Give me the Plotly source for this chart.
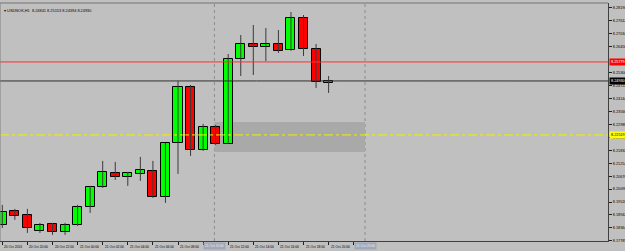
import plotly.graph_objects as go

# ---- data ----
hour_index = list(range(27))   # 20 Oct 18:00 ... 21 Oct 20:00 (H1)
opens  = [8.18499, 8.19125, 8.18946, 8.18231, 8.18544, 8.18187, 8.18499, 8.19303, 8.20196,
          8.20822, 8.20643, 8.20777, 8.20911, 8.19750, 8.22161, 8.24662, 8.21849, 8.22876,
          8.22117, 8.25913, 8.26582, 8.26448, 8.26582, 8.26314, 8.27743, 8.26359, 8.24841]
highs  = [8.19393, 8.19214, 8.19214, 8.18589, 8.18589, 8.18589, 8.19393, 8.20241, 8.21358,
          8.21313, 8.20866, 8.21536, 8.21358, 8.22161, 8.24930, 8.24751, 8.23010, 8.22965,
          8.26136, 8.26984, 8.27431, 8.27297, 8.27208, 8.28011, 8.27877, 8.26582, 8.25153]
lows   = [8.18365, 8.18723, 8.18142, 8.18142, 8.18053, 8.18053, 8.18455, 8.19035, 8.20152,
          8.20509, 8.20241, 8.20464, 8.19705, 8.19482, 8.20777, 8.21581, 8.21804, 8.22072,
          8.22117, 8.25153, 8.25198, 8.25823, 8.26180, 8.26270, 8.26046, 8.24617, 8.24394]
closes = [8.19080, 8.18901, 8.18365, 8.18499, 8.18187, 8.18499, 8.19303, 8.20196, 8.20866,
          8.20643, 8.20822, 8.20956, 8.19750, 8.22161, 8.24662, 8.21849, 8.22876, 8.22117,
          8.25913, 8.26582, 8.26448, 8.26582, 8.26270, 8.27743, 8.26359, 8.24885, 8.24930]

# price labels visible on the right scale (the ones under the level tags are hidden)
price_ticks = [8.28190, 8.27612, 8.27034, 8.26456, 8.25300, 8.24722, 8.24144,
               8.23566, 8.22988, 8.22410, 8.21832, 8.21254, 8.20676, 8.20098, 8.19520,
               8.18942, 8.18364, 8.17785]

time_tick_idx = [0, 2, 4, 6, 8, 10, 12, 14, 18, 20, 22, 24, 26]
time_tick_txt = ["20 Oct 2016", "20 Oct 20:00", "20 Oct 22:00", "21 Oct 00:00", "21 Oct 02:00",
                 "21 Oct 04:00", "21 Oct 06:00", "21 Oct 08:00", "21 Oct 12:00", "21 Oct 14:00",
                 "21 Oct 16:00", "21 Oct 18:00", "21 Oct 20:00"]

red_level = 8.25779
yellow_level = 8.22519
bid_level = 8.24930
zone_time = [16.9, 28.9]
zone_price = [8.21759, 8.23099]
vline_idx = [16.9, 28.9]
vline_txt = ["21 Oct 11:00", "21 Oct 23:00"]
header = "USDNOK,H1  8.24841 8.25153 8.24394 8.24930"

BG = "#c0c0c0"
FONT = "Liberation Sans"

fig = go.Figure()

# wicks
wx, wy = [], []
for i, h, l in zip(hour_index, highs, lows):
    wx += [i, i, None]
    wy += [l, h, None]
fig.add_trace(go.Scatter(x=wx, y=wy, mode="lines", line=dict(color="#3a3a3a", width=1),
                         hoverinfo="skip", showlegend=False))

# bodies
base = [min(o, c) for o, c in zip(opens, closes)]
height = [abs(c - o) for o, c in zip(opens, closes)]
colors = ["#00ff00" if c >= o else "#ff0000" for o, c in zip(opens, closes)]
fig.add_trace(go.Bar(x=hour_index, y=height, base=base, width=0.72,
                     marker=dict(color=colors, line=dict(color="#000000", width=1)),
                     showlegend=False))

# zone rectangle
fig.add_shape(type="rect", xref="x", yref="y", x0=zone_time[0], x1=zone_time[1],
              y0=zone_price[0], y1=zone_price[1], fillcolor="#a9a9a9", line_width=0, layer="below")
# vertical dotted lines
for v in vline_idx:
    fig.add_shape(type="line", xref="x", yref="paper", x0=v, x1=v, y0=0, y1=1,
                  line=dict(color="#8c8c8c", width=1, dash="dot"), layer="below")
# horizontal lines
fig.add_shape(type="line", xref="paper", yref="y", x0=0, x1=1, y0=red_level, y1=red_level,
              line=dict(color="#ff3030", width=1))
fig.add_shape(type="line", xref="paper", yref="y", x0=0, x1=1, y0=bid_level, y1=bid_level,
              line=dict(color="#303030", width=1))
fig.add_shape(type="line", xref="paper", yref="y", x0=0, x1=1, y0=yellow_level, y1=yellow_level,
              line=dict(color="#f0f000", width=1, dash="dashdot"))
# frame top/left
fig.add_shape(type="line", xref="paper", yref="paper", x0=0, x1=1, y0=1, y1=1,
              line=dict(color="#9a9a9a", width=2))
fig.add_shape(type="line", xref="paper", yref="paper", x0=0, x1=0, y0=0, y1=1,
              line=dict(color="#808080", width=1))

# price-level labels on the right
for lvl, bg, fc in [(red_level, "#ff0000", "#ffffff"), (bid_level, "#000000", "#ffffff"),
                    (yellow_level, "#ffff00", "#000000")]:
    fig.add_annotation(x=1, xref="paper", y=lvl, yref="y", xanchor="left", yanchor="middle",
                       text=f"{lvl:.5f}", showarrow=False, bgcolor=bg, borderpad=1,
                       font=dict(family=FONT, size=3.8, color=fc), xshift=1)

# time labels
for i, t in zip(time_tick_idx, time_tick_txt):
    fig.add_annotation(x=i, xref="x", y=0, yref="paper", xanchor="left", yanchor="top",
                       text=t, showarrow=False, font=dict(family=FONT, size=3.3, color="#000000"),
                       xshift=0, yshift=-2)
for v, t in zip(vline_idx, vline_txt):
    fig.add_annotation(x=v, xref="x", y=0, yref="paper", xanchor="center", yanchor="top",
                       text=t, showarrow=False, bgcolor="#a0a8ba", borderpad=1,
                       font=dict(family=FONT, size=3.3, color="#eeeeee"), yshift=-1)

# header
fig.add_annotation(x=0, xref="paper", y=1, yref="paper", xanchor="left", yanchor="top",
                   text="\u25be " + header, showarrow=False,
                   font=dict(family=FONT, size=3.9, color="#000000"), xshift=2, yshift=-3)

fig.update_layout(
    width=625, height=251,
    margin=dict(l=0, r=17, t=3, b=10, autoexpand=False),
    paper_bgcolor=BG, plot_bgcolor=BG,
    showlegend=False, bargap=0,
    xaxis=dict(range=[-0.183, 48.26], showgrid=False, zeroline=False, automargin=False,
               tickvals=time_tick_idx + [16, 28], showticklabels=False,
               ticks="outside", ticklen=3, tickcolor="#202020",
               showline=True, linecolor="#404040", linewidth=1),
    yaxis=dict(range=[8.17780, 8.28413], side="right", showgrid=False, zeroline=False,
               automargin=False,
               tickvals=price_ticks, ticktext=[f"{v:.5f}" for v in price_ticks],
               ticks="outside", ticklen=3, tickcolor="#202020",
               tickfont=dict(family=FONT, size=3.8, color="#000000"),
               showline=True, linecolor="#404040", linewidth=1),
)

fig.write_html("out.html")
